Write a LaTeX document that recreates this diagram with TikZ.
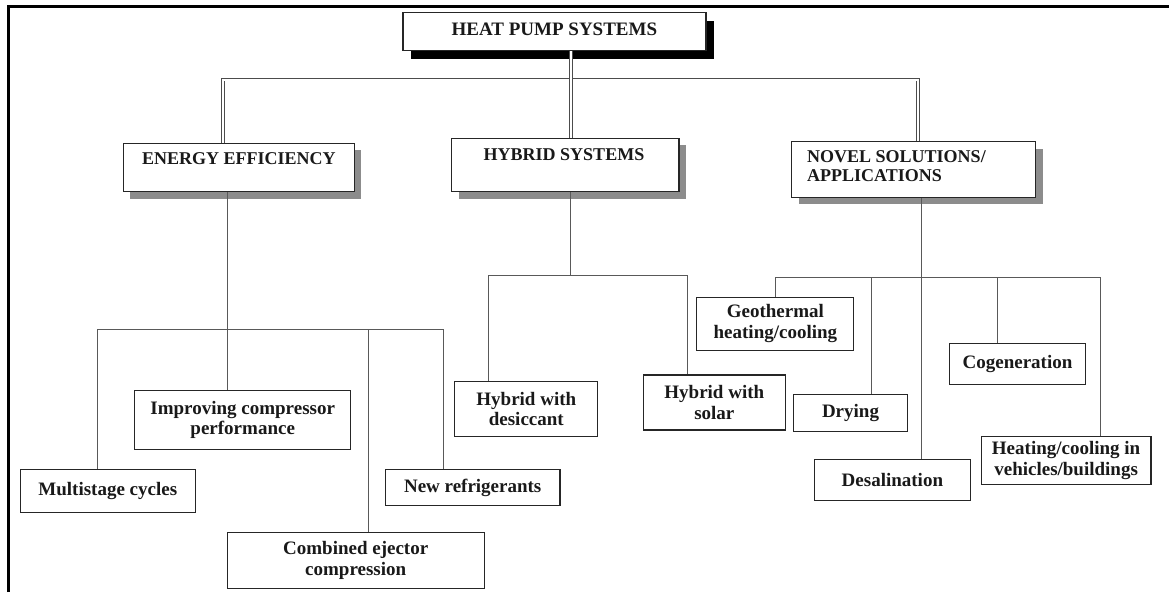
\documentclass[tikz,border=0pt]{standalone}
\usepackage{fontspec}
\setmainfont{Liberation Serif}
\usetikzlibrary{shadows}
\begin{document}
\begin{tikzpicture}[x=1pt,y=-1pt,
  conn/.style={draw=black!65, line width=0.9pt},
  dbl/.style={draw=black!70, line width=0.8pt, double=white, double distance=2pt},
  hbox/.style={draw=black!85, line width=1.2pt, fill=white, inner sep=0pt,
    drop shadow={shadow xshift=7pt, shadow yshift=-7pt, fill=black!45, opacity=1}},
  topbox/.style={draw=black!85, line width=1.2pt, fill=white, inner sep=0pt,
    drop shadow={shadow xshift=8pt, shadow yshift=-8pt, fill=black, opacity=1}},
  cbox/.style={draw=black!85, line width=1.1pt, fill=white, inner sep=0pt, align=center,
    font=\fontsize{19}{20.5}\selectfont\bfseries, text=black!90},
  htext/.style={font=\fontsize{18}{19}\selectfont\bfseries, text=black!90, inner sep=0pt},
]
\useasboundingbox (0,0) rectangle (1169,592);
\fill[white] (0,0) rectangle (1169,592);
% frame
\draw[line width=2.4pt, black] (8.6,592) -- (8.6,6.5) -- (1169,6.5);

% top
\node[topbox, minimum width=303pt, minimum height=38pt] (hps) at (554.4,31.7) {};
\node[htext, font=\fontsize{19}{20}\selectfont\bfseries] (hpst) at (554.4,29.3) {HEAT PUMP SYSTEMS};

% headings
\node[hbox, minimum width=231pt, minimum height=48.4pt] (ee) at (238.8,167.5) {};
\node[htext] (eet) at (238.8,158.3) {ENERGY EFFICIENCY};
\node[hbox, minimum width=227.4pt, minimum height=53.4pt] (hy) at (565.3,165) {};
\node[htext] (hyt) at (564,155) {HYBRID SYSTEMS};
\node[hbox, minimum width=244pt, minimum height=55.6pt] (nov) at (913.75,169.5) {};
\node[htext, anchor=west, align=left] (novt) at (807,166.2) {NOVEL SOLUTIONS/\\APPLICATIONS};

% children
\node[cbox, minimum width=175pt, minimum height=42.7pt] (ms) at (107.8,490.7) {Multistage cycles};
\node[cbox, minimum width=216pt, minimum height=58.3pt] (icp) at (242.7,419.9) {Improving compressor\\performance};
\node[cbox, minimum width=256.8pt, minimum height=56pt] (cec) at (355.7,560.3) {Combined ejector\\compression};
\node[cbox, minimum width=174.5pt, minimum height=36.4pt] (nr) at (472.7,487.5) {New refrigerants};
\node[cbox, minimum width=143pt, minimum height=55.7pt] (hd) at (526.3,408.9) {Hybrid with\\desiccant};
\node[cbox, minimum width=142.4pt, minimum height=55pt] (hs) at (714.3,402.5) {Hybrid with\\solar};
\node[cbox, minimum width=157pt, minimum height=52.7pt] (geo) at (775.4,323.7) {Geothermal\\heating/cooling};
\node[cbox, minimum width=113.5pt, minimum height=36.7pt] (dry) at (850.5,412.7) {Drying};
\node[cbox, minimum width=135.7pt, minimum height=41pt] (cog) at (1017.5,363.8) {Cogeneration};
\node[cbox, minimum width=156.7pt, minimum height=41.4pt] (des) at (892.4,480) {Desalination};
\node[cbox, minimum width=169.8pt, minimum height=47.6pt] (hcv) at (1066.1,460.5) {Heating/cooling in\\vehicles/buildings};

% double-line connectors
\coordinate (bL) at (223,79.5);
\coordinate (bR) at (918,79.5);
\coordinate (bM) at (571,0);
\draw[dbl] (ee.north -| bL) -- (bL) -- (bR) -- (nov.north -| bR);
\draw[dbl] (hps.south -| bM) -- (hy.north -| bM);

% energy efficiency subtree
\coordinate (eeX) at (227,0);
\coordinate (eeL) at (97.6,329);
\coordinate (eeR) at (443.2,329);
\coordinate (cecX) at (368,0);
\draw[conn] (ee.south -| eeX) -- (icp.north -| eeX);
\draw[conn] (ms.north -| eeL) -- (eeL) -- (eeR) -- (nr.north -| eeR);
\draw[conn] (eeL -| cecX) -- (cec.north -| cecX);

% hybrid subtree
\coordinate (hyX) at (570,0);
\coordinate (hyL) at (488.7,275);
\coordinate (hyR) at (687,275);
\draw[conn] (hy.south -| hyX) -- (hyL -| hyX);
\draw[conn] (hd.north -| hyL) -- (hyL) -- (hyR) -- (hs.north -| hyR);

% novel subtree
\coordinate (nvX) at (921.5,0);
\coordinate (nvL) at (775,277);
\coordinate (nvR) at (1100.3,277);
\coordinate (dryX) at (871,0);
\coordinate (cogX) at (997,0);
\draw[conn] (nov.south -| nvX) -- (des.north -| nvX);
\draw[conn] (geo.north -| nvL) -- (nvL) -- (nvR) -- (hcv.north -| nvR);
\draw[conn] (nvL -| dryX) -- (dry.north -| dryX);
\draw[conn] (nvL -| cogX) -- (cog.north -| cogX);
\end{tikzpicture}
\end{document}
